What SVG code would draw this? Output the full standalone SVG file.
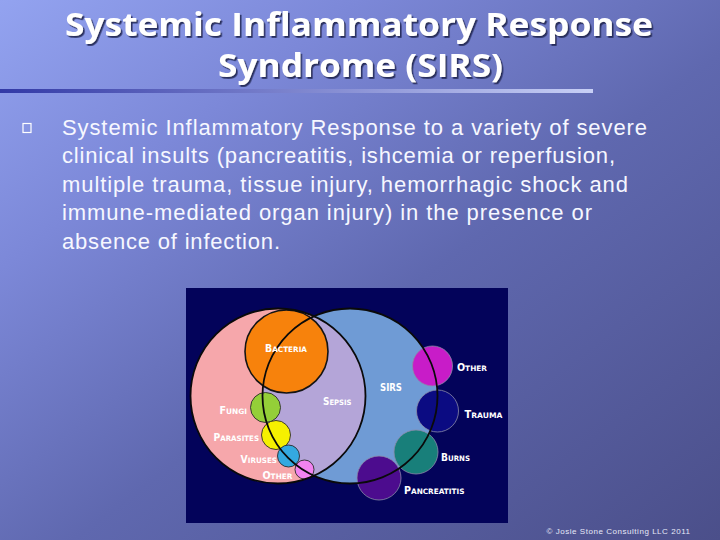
<svg xmlns="http://www.w3.org/2000/svg" width="720" height="540" viewBox="0 0 720 540">
  <defs>
    <linearGradient id="bg" x1="0" y1="0" x2="1" y2="1">
      <stop offset="0" stop-color="#93A3F0"/>
      <stop offset="0.25" stop-color="#7C88D8"/>
      <stop offset="0.55" stop-color="#5F68AF"/>
      <stop offset="1" stop-color="#4B4F8A"/>
    </linearGradient>
    <linearGradient id="bar" x1="0" y1="0" x2="1" y2="0">
      <stop offset="0" stop-color="#3239A6"/>
      <stop offset="1" stop-color="#C8D0F6"/>
    </linearGradient>
    <filter id="shadow" x="-5%" y="-20%" width="110%" height="150%">
      <feDropShadow dx="1.6" dy="1.8" stdDeviation="0.6" flood-color="#1E2150" flood-opacity="0.9"/>
    </filter>
    <clipPath id="pinkClip">
      <circle cx="278" cy="396" r="87.5"/>
    </clipPath>
  </defs>
  <style>
    .title { font-family: "Open Sans", "Liberation Sans", sans-serif; font-weight: 700; font-size: 33px; fill: #FFFFFF; }
    .body { font-family: "Liberation Sans", Arial, sans-serif; font-size: 22px; fill: #F6F7FF; }
    .lbl { font-family: "DejaVu Sans", "Liberation Sans", sans-serif; font-weight: 700; font-size: 7.4px; fill: #FFFFFF; }
    .cap { font-size: 9.6px; }
    .copy { font-family: "Liberation Sans", Arial, sans-serif; font-size: 8px; fill: #E6E9F8; }
    .ring { fill: none; stroke: #0A0A0A; stroke-width: 1.8; }
    .sm { stroke: #2A2A2A; stroke-width: 0.9; }
    .smr { stroke: #8C8CA8; stroke-width: 0.8; }
  </style>

  <rect x="0" y="0" width="720" height="540" fill="url(#bg)"/>

  <g id="title">
    <text class="title" x="65" y="36" textLength="588" lengthAdjust="spacingAndGlyphs" filter="url(#shadow)">Systemic Inflammatory Response</text>
    <text class="title" x="218" y="77" textLength="285" lengthAdjust="spacingAndGlyphs" filter="url(#shadow)">Syndrome (SIRS)</text>
    <rect x="0" y="89" width="593" height="4" fill="url(#bar)"/>
  </g>

  <g id="bullet-text">
    <rect x="23" y="123.5" width="8" height="9" fill="none" stroke="#FFFFFF" stroke-width="1.2"/>
    <text class="body" x="62" y="134.5" textLength="585">Systemic Inflammatory Response to a variety of severe</text>
    <text class="body" x="62" y="163" textLength="553">clinical insults (pancreatitis, ishcemia or reperfusion,</text>
    <text class="body" x="62" y="191.5" textLength="566">multiple trauma, tissue injury, hemorrhagic shock and</text>
    <text class="body" x="62" y="220" textLength="530">immune-mediated organ injury) in the presence or</text>
    <text class="body" x="62" y="248.5" textLength="218">absence of infection.</text>
  </g>

  <g id="venn">
    <rect x="186" y="288" width="322" height="235" fill="#03035A"/>
    <g id="infection">
      <circle cx="278" cy="396" r="87.5" fill="#F6A7AB"/>
    </g>
    <g id="sirs">
      <circle cx="350" cy="396" r="87.5" fill="#6F9BD5"/>
    </g>
    <g id="sepsis">
      <circle cx="350" cy="396" r="87.5" fill="#B4A5D8" clip-path="url(#pinkClip)"/>
    </g>
    <g id="bacteria"><circle cx="286.5" cy="351.5" r="41.5" fill="#F7820C" stroke="#141414" stroke-width="1.6"/></g>
    <g id="fungi"><circle cx="265.5" cy="407.5" r="15" fill="#94CF38" class="sm"/></g>
    <g id="parasites"><circle cx="276" cy="435" r="14.5" fill="#F6F000" class="sm"/></g>
    <g id="viruses"><circle cx="288.5" cy="456" r="11" fill="#34A9E0" class="sm"/></g>
    <g id="other-left"><circle cx="304.5" cy="469.5" r="9.5" fill="#F283F0" class="sm"/></g>
    <g id="other-right"><circle cx="432.5" cy="366" r="20" fill="#C81CC8" class="smr"/></g>
    <g id="trauma"><circle cx="437.5" cy="411" r="21" fill="#0B0B82" class="smr"/></g>
    <g id="burns"><circle cx="416" cy="452" r="22" fill="#187F7A" class="smr"/></g>
    <g id="pancreatitis"><circle cx="379" cy="478" r="22" fill="#4C0C8E" class="smr"/></g>
    <g id="connectors">
      <circle class="ring" cx="278" cy="396" r="87.5"/>
      <circle class="ring" cx="350" cy="396" r="87.5"/>
    </g>
    <g id="labels">
      <text class="lbl" x="265" y="352" textLength="42" lengthAdjust="spacingAndGlyphs"><tspan class="cap">B</tspan>ACTERIA</text>
      <text class="lbl" x="380" y="391" textLength="22" lengthAdjust="spacingAndGlyphs"><tspan class="cap">SIRS</tspan></text>
      <text class="lbl" x="323" y="405" textLength="28.5" lengthAdjust="spacingAndGlyphs"><tspan class="cap">S</tspan>EPSIS</text>
      <text class="lbl" x="219.5" y="414" textLength="27.5" lengthAdjust="spacingAndGlyphs"><tspan class="cap">F</tspan>UNGI</text>
      <text class="lbl" x="213.5" y="440.5" textLength="45.5" lengthAdjust="spacingAndGlyphs"><tspan class="cap">P</tspan>ARASITES</text>
      <text class="lbl" x="240.5" y="462.5" textLength="36.5" lengthAdjust="spacingAndGlyphs"><tspan class="cap">V</tspan>IRUSES</text>
      <text class="lbl" x="262.5" y="479" textLength="30" lengthAdjust="spacingAndGlyphs"><tspan class="cap">O</tspan>THER</text>
      <text class="lbl" x="457" y="371" textLength="30" lengthAdjust="spacingAndGlyphs"><tspan class="cap">O</tspan>THER</text>
      <text class="lbl" x="464.5" y="418" textLength="38" lengthAdjust="spacingAndGlyphs"><tspan class="cap">T</tspan>RAUMA</text>
      <text class="lbl" x="441" y="461" textLength="29" lengthAdjust="spacingAndGlyphs"><tspan class="cap">B</tspan>URNS</text>
      <text class="lbl" x="404" y="494" textLength="60.5" lengthAdjust="spacingAndGlyphs"><tspan class="cap">P</tspan>ANCREATITIS</text>
    </g>
  </g>

  <text class="copy" x="546.5" y="534" textLength="143.5">© Josie Stone Consulting LLC 2011</text>
</svg>
